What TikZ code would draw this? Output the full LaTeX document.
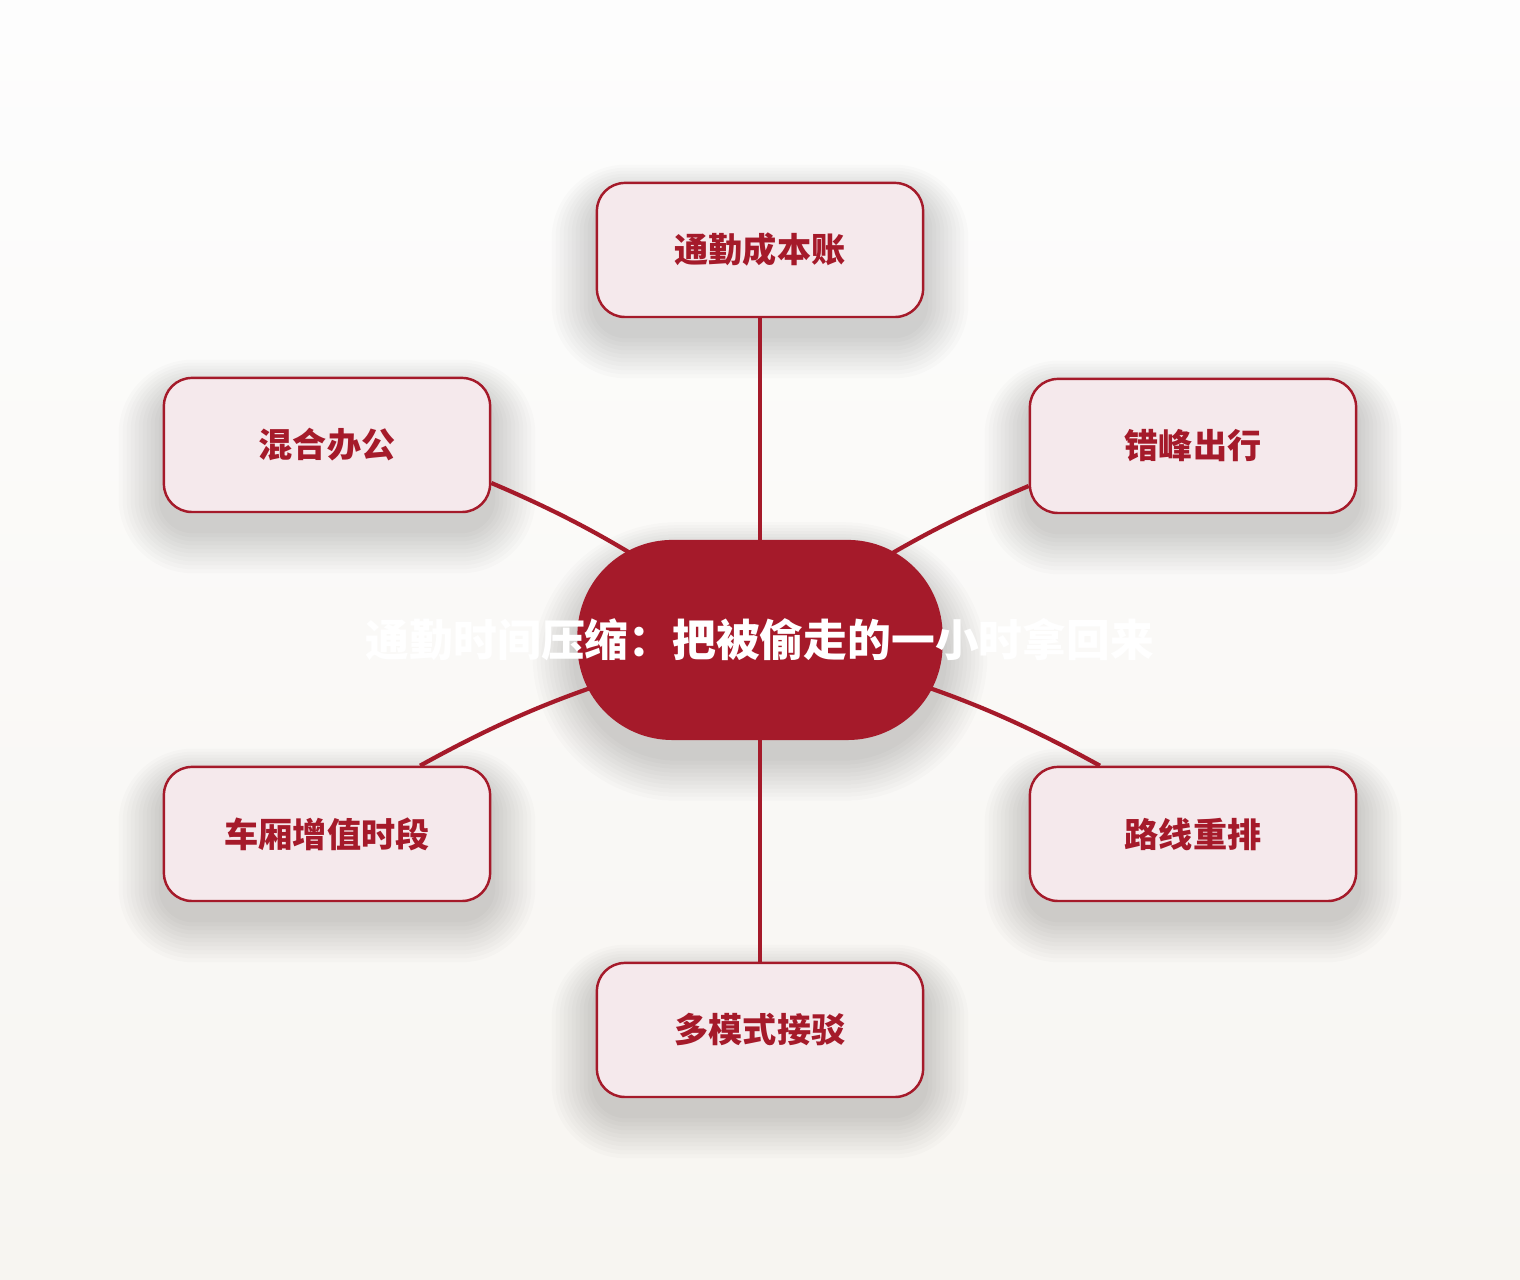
\documentclass[tikz,border=0pt]{standalone}
\usepackage{fontspec}
\newfontfamily\cjk{Noto Sans CJK SC}
\definecolor{deepred}{HTML}{A51A2A}
\definecolor{palepink}{HTML}{F5E9EC}
\definecolor{bgtop}{HTML}{FDFDFD}
\definecolor{bgbottom}{HTML}{F7F5F1}
\pgfdeclarelayer{bg}
\pgfdeclarelayer{edges}
\pgfsetlayers{bg,edges,main}
\tikzset{
  leaf/.style={draw=deepred, line width=0.7pt, fill=palepink, rounded corners=0.28cm,
    minimum width=3.26cm, minimum height=1.34cm, text=deepred,
    font=\cjk\bfseries\fontsize{9.7pt}{12pt}\selectfont},
  hub/.style={fill=deepred, rounded corners=0.95cm, minimum width=3.65cm, minimum height=2cm},
  softshade/.style={fill=black, fill opacity=0.016},
  link/.style={draw=deepred, line width=1.2pt},
}
\begin{document}
\begin{tikzpicture}[x=0.01cm,y=0.01cm]
    \useasboundingbox (0,0) rectangle (1520,1280);
    % Nodo central y ramas
    \node[hub] (hub) at (760,640) {};
    \node[text=white, font=\cjk\bfseries\fontsize{12.45pt}{15pt}\selectfont] (title) at (hub) {通勤时间压缩：把被偷走的一小时拿回来};
    \node[leaf] (cost) at (760,1030) {通勤成本账};
    \node[leaf] (hybrid) at (327,835) {混合办公};
    \node[leaf] (offpeak) at (1193,834) {错峰出行};
    \node[leaf] (carriage) at (327,446) {车厢增值时段};
    \node[leaf] (reroute) at (1193,446) {路线重排};
    \node[leaf] (multi) at (760,250) {多模式接驳};
    \begin{pgfonlayer}{bg}
        \shade[top color=bgtop, bottom color=bgbottom] (0,0) rectangle (1520,1280);
        % sombras suaves
        \foreach \n in {cost,hybrid,offpeak,carriage,reroute,multi}
            \foreach \k in {1,...,11}
                \fill[softshade, rounded corners=0.3cm+\k*0.04cm]
                    ([shift={(-\k*4,-\k*4-16)}]\n.south west) rectangle ([shift={(\k*4,\k*3-16)}]\n.north east);
        \foreach \k in {1,...,11}
            \fill[softshade, rounded corners=1cm+\k*0.04cm]
                ([shift={(-\k*4,-\k*4-16)}]hub.south west) rectangle ([shift={(\k*4,\k*3-16)}]hub.north east);
    \end{pgfonlayer}
    \begin{pgfonlayer}{edges}
        \draw[link] (hub.center) -- (cost);
        \draw[link] (hub.center) -- (multi);
        \draw[link] (hub.center) to[out=145,in=-23] ([yshift=-0.38cm]hybrid.east);
        \draw[link] (hub.center) to[out=35,in=203] ([yshift=-0.40cm]offpeak.west);
        \draw[link] (hub.center) to[out=194,in=29] ([xshift=0.93cm]carriage.north);
        \draw[link] (hub.center) to[out=-14,in=151] ([xshift=-0.93cm]reroute.north);
    \end{pgfonlayer}
\end{tikzpicture}
\end{document}
